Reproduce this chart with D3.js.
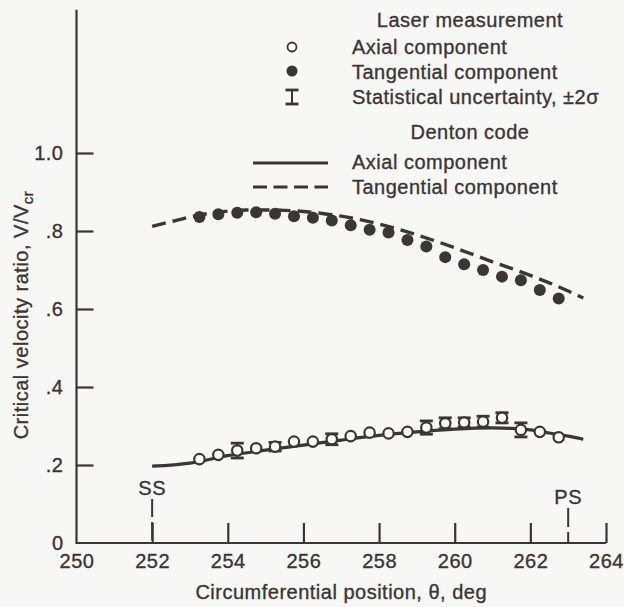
<!DOCTYPE html>
<html>
<head>
<meta charset="utf-8">
<script src="https://cdn.jsdelivr.net/npm/d3@7"></script>
<style>
  html, body { margin: 0; padding: 0; background: #f7f7f6; }
  svg { display: block; }
  text {
    font-family: "Liberation Sans", Arial, Helvetica, sans-serif;
    fill: #3a3536; stroke: #3a3536; stroke-width: 0.35px;
    letter-spacing: 0.5px;
  }
</style>
</head>
<body>
<svg id="chart" width="624" height="607"></svg>
<script>
// Laser measurements (circumferential position, deg)
const measTheta = [253.25, 253.75, 254.25, 254.75, 255.25, 255.75, 256.25, 256.75, 257.25, 257.75,
                   258.25, 258.75, 259.25, 259.75, 260.25, 260.75, 261.25, 261.75, 262.25, 262.75];
const measAxial = [0.215, 0.226, 0.237, 0.243, 0.247, 0.260, 0.260, 0.266, 0.274, 0.283,
                   0.281, 0.285, 0.296, 0.307, 0.309, 0.311, 0.321, 0.290, 0.285, 0.271];
const measTangential = [0.836, 0.843, 0.847, 0.848, 0.844, 0.838, 0.834, 0.827, 0.815, 0.803,
                        0.796, 0.777, 0.760, 0.733, 0.715, 0.700, 0.683, 0.674, 0.649, 0.627];

// Statistical uncertainty (±2σ) on selected axial points
const uncertaintyTheta = [254.25, 255.25, 256.75, 259.25, 259.75, 260.25, 260.75, 261.25, 261.75];
const uncertaintyHalf  = [0.019, 0.011, 0.014, 0.017, 0.014, 0.012, 0.014, 0.013, 0.018];

// Denton code predictions
const codeAxialTheta = [252, 253, 254, 255, 256, 257, 258, 259, 260, 261, 261.5, 262, 262.5, 263, 263.4];
const codeAxial      = [0.197, 0.205, 0.224, 0.238, 0.251, 0.264, 0.276, 0.285, 0.292, 0.295, 0.294, 0.290, 0.282, 0.274, 0.266];
const codeTangTheta  = [252, 252.5, 253, 253.5, 254, 254.5, 255, 255.5, 256, 256.5, 257, 257.5,
                        258, 258.5, 259, 259.5, 260, 260.5, 261, 261.5, 262, 262.5, 263, 263.4];
const codeTangential = [0.812, 0.824, 0.836, 0.845, 0.851, 0.854, 0.854, 0.853, 0.850, 0.845, 0.838, 0.829,
                        0.818, 0.805, 0.790, 0.774, 0.757, 0.739, 0.721, 0.704, 0.686, 0.667, 0.646, 0.628];

// Blade surface markers
const surfaceTheta  = [252, 263];
const surfaceLabels = ["SS", "PS"];

// Axis ticks
const xTicks = [250, 252, 254, 256, 258, 260, 262, 264];
const yTicks = [0, 0.2, 0.4, 0.6, 0.8, 1.0];

const ink = "#3a3536";
const fs = 20;
const svg = d3.select("#chart");

const x = d3.scaleLinear().domain([250, 264]).range([76.5, 606]);
const y = d3.scaleLinear().domain([0, 1]).range([543, 153]);
const yTop = 1.367;

// Axes
const gx = svg.append("g").attr("transform", `translate(0,${y(0)})`)
  .call(d3.axisBottom(x).tickValues(xTicks).tickSizeInner(-20).tickSizeOuter(0).tickPadding(11)
        .tickFormat(d3.format("d")));
gx.select(".domain").remove();
gx.selectAll(".tick line").attr("stroke", ink).attr("stroke-width", 2.2)
  .filter(d => d === 250).remove();
gx.selectAll(".tick text").attr("font-size", fs);

const gy = svg.append("g").attr("transform", `translate(${x(250)},0)`)
  .call(d3.axisLeft(y).tickValues(yTicks).tickSizeInner(-17).tickSizeOuter(0).tickPadding(13)
        .tickFormat(d => d === 0 ? "0" : d === 1 ? "1.0" : d3.format(".1f")(d).replace(/^0/, "")));
gy.select(".domain").remove();
gy.selectAll(".tick line").attr("stroke", ink).attr("stroke-width", 2.2)
  .filter(d => d === 0).remove();
gy.selectAll(".tick text").attr("font-size", fs);
gy.selectAll("text").style("fill", ink);
gx.selectAll("text").style("fill", ink);

svg.append("path")
  .attr("d", `M${x(250)},${y(yTop)}V${y(0)}H${x(264)}`)
  .attr("fill", "none").attr("stroke", ink).attr("stroke-width", 2.2);

// Axis titles
svg.append("text").attr("x", (x(250) + x(264)) / 2).attr("y", 599)
  .attr("text-anchor", "middle").attr("font-size", fs)
  .text("Circumferential position, θ, deg");

const yt = svg.append("text").attr("transform", `translate(28,${315}) rotate(-90)`)
  .attr("text-anchor", "middle").attr("font-size", fs);
yt.append("tspan").text("Critical velocity ratio, V/V");
yt.append("tspan").attr("font-size", 15).attr("dy", 5).text("cr");

// Blade surface markers (suction side, pressure side)
const markerTop = [44, 35];
surfaceTheta.forEach((t, i) => {
  const top = markerTop[i];
  svg.append("line").attr("x1", x(t)).attr("x2", x(t))
    .attr("y1", y(0) - top).attr("y2", y(0))
    .attr("stroke", ink).attr("stroke-width", 2).attr("stroke-dasharray", i === 0 ? "18,5" : "19,5");
  svg.append("text").attr("x", x(t)).attr("y", y(0) - top - 4)
    .attr("text-anchor", "middle").attr("font-size", fs).text(surfaceLabels[i]);
});

// Denton code curves
const lineGen = d3.line().curve(d3.curveMonotoneX);
svg.append("path")
  .attr("d", lineGen(codeAxialTheta.map((t, i) => [x(t), y(codeAxial[i])])))
  .attr("fill", "none").attr("stroke", ink).attr("stroke-width", 3.2);
svg.append("path")
  .attr("d", lineGen(codeTangTheta.map((t, i) => [x(t), y(codeTangential[i])])))
  .attr("fill", "none").attr("stroke", ink).attr("stroke-width", 3.4)
  .attr("stroke-dasharray", "14,7");

// Error bars
function drawBar(g, cx, yLo, yHi) {
  g.append("line").attr("x1", cx).attr("x2", cx).attr("y1", yLo).attr("y2", yHi)
    .attr("stroke", ink).attr("stroke-width", 2);
  [yLo, yHi].forEach(v => g.append("line").attr("x1", cx - 6.5).attr("x2", cx + 6.5)
    .attr("y1", v).attr("y2", v).attr("stroke", ink).attr("stroke-width", 2.8));
}
const gErr = svg.append("g");
uncertaintyTheta.forEach((t, i) => {
  const v = measAxial[measTheta.indexOf(t)];
  drawBar(gErr, x(t), y(v - uncertaintyHalf[i]), y(v + uncertaintyHalf[i]));
});

// Measured points
svg.append("g").selectAll("circle").data(measTheta).join("circle")
  .attr("cx", d => x(d)).attr("cy", (d, i) => y(measAxial[i])).attr("r", 5.2)
  .attr("fill", "#fafafa").attr("stroke", ink).attr("stroke-width", 2.2);
svg.append("g").selectAll("circle").data(measTheta).join("circle")
  .attr("cx", d => x(d)).attr("cy", (d, i) => y(measTangential[i])).attr("r", 6)
  .attr("fill", ink);

// Legend
const lg = svg.append("g");
const txtX = 352, symX = 292;
lg.append("text").attr("x", 470).attr("y", 27).attr("text-anchor", "middle").attr("font-size", fs)
  .text("Laser measurement");
lg.append("circle").attr("cx", symX).attr("cy", 47).attr("r", 4.5)
  .attr("fill", "#fafafa").attr("stroke", ink).attr("stroke-width", 1.8);
lg.append("text").attr("x", txtX).attr("y", 54).attr("font-size", fs).text("Axial component");
lg.append("circle").attr("cx", symX).attr("cy", 71).attr("r", 5.5).attr("fill", ink);
lg.append("text").attr("x", txtX).attr("y", 79).attr("font-size", fs).text("Tangential component");
drawBar(lg, symX, 104, 90);
lg.append("text").attr("x", txtX).attr("y", 104).attr("font-size", fs).text("Statistical uncertainty, ±2σ");
lg.append("text").attr("x", 470).attr("y", 139).attr("text-anchor", "middle").attr("font-size", fs)
  .text("Denton code");
lg.append("line").attr("x1", 253).attr("x2", 328).attr("y1", 163).attr("y2", 163)
  .attr("stroke", ink).attr("stroke-width", 3);
lg.append("text").attr("x", txtX).attr("y", 169).attr("font-size", fs).text("Axial component");
lg.append("line").attr("x1", 253).attr("x2", 328).attr("y1", 187).attr("y2", 187)
  .attr("stroke", ink).attr("stroke-width", 3).attr("stroke-dasharray", "14,6.5");
lg.append("text").attr("x", txtX).attr("y", 194).attr("font-size", fs).text("Tangential component");
</script>
</body>
</html>
